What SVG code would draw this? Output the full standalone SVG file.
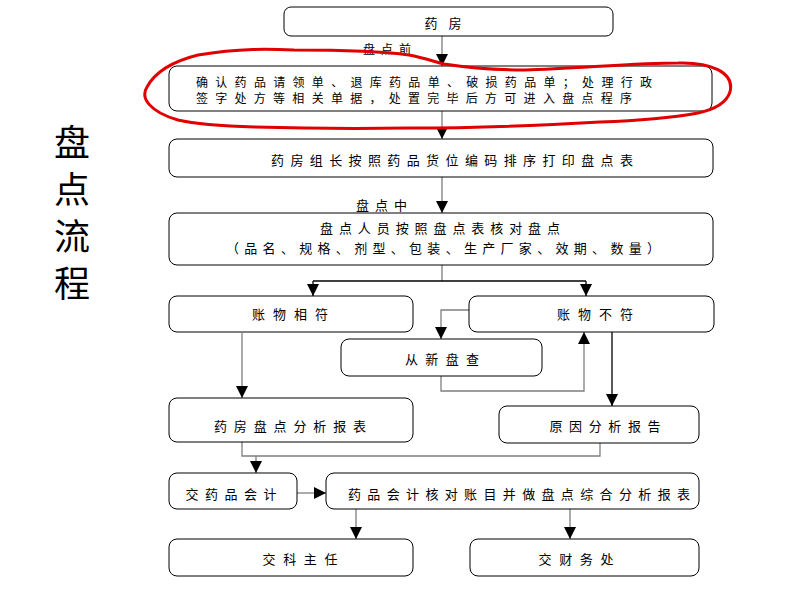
<svg xmlns="http://www.w3.org/2000/svg" width="800" height="600" viewBox="0 0 800 600">
<style>
.box{fill:#fff;stroke:#000;stroke-width:1}
.t{font-family:"Noto Sans CJK SC","Noto Sans",sans-serif;font-size:13px;fill:#000;dominant-baseline:central}
.s{font-size:12px}
.c{text-anchor:middle}
.ln{fill:none;stroke:#7f7f7f;stroke-width:1.3}
.lk{fill:none;stroke:#000;stroke-width:1.3}
.title{font-family:"Noto Sans CJK SC",sans-serif;font-size:36px;fill:#000;text-anchor:middle;dominant-baseline:central}
</style>
<defs>
<marker id="ah" viewBox="0 0 12 12" refX="12" refY="6" markerWidth="12" markerHeight="12" markerUnits="userSpaceOnUse" orient="auto">
<path d="M0,0 L12,6 L0,12 Z" fill="#000"/>
</marker>
</defs>
<rect width="800" height="600" fill="#fff"/>
<g id="title">
<text class="title" x="72" y="140">盘</text>
<text class="title" x="72" y="187">点</text>
<text class="title" x="72" y="234">流</text>
<text class="title" x="72" y="281">程</text>
</g>
<g id="connectors">
<line class="ln" x1="442" y1="36" x2="442" y2="66" marker-end="url(#ah)"/>
<line class="ln" x1="442" y1="111" x2="442" y2="139" marker-end="url(#ah)"/>
<line class="ln" x1="442" y1="177" x2="442" y2="213" marker-end="url(#ah)"/>
<line class="ln" x1="442" y1="265" x2="442" y2="281"/>
<line class="lk" x1="313" y1="281" x2="586" y2="281"/>
<line class="lk" x1="313" y1="281" x2="313" y2="296" marker-end="url(#ah)"/>
<line class="lk" x1="586" y1="281" x2="586" y2="296" marker-end="url(#ah)"/>
<polyline class="ln" points="469,310 441,310 441,339" marker-end="url(#ah)"/>
<polyline class="ln" points="441,376 441,391 584,391 584,332" marker-end="url(#ah)"/>
<line class="lk" x1="612" y1="332" x2="612" y2="406" marker-end="url(#ah)"/>
<line class="ln" x1="242" y1="333" x2="242" y2="398" marker-end="url(#ah)"/>
<polyline class="ln" points="242,442 242,456 600,456 600,443"/>
<line class="ln" x1="256" y1="456" x2="256" y2="473" marker-end="url(#ah)"/>
<line class="ln" x1="297" y1="493" x2="326" y2="493" marker-end="url(#ah)"/>
<line class="ln" x1="356" y1="509" x2="356" y2="539" marker-end="url(#ah)"/>
<line class="ln" x1="570" y1="509" x2="570" y2="539" marker-end="url(#ah)"/>
<text class="t s" x="363" y="48" textLength="48" lengthAdjust="spacing">盘点前</text>
<text class="t" x="356" y="204" textLength="51" lengthAdjust="spacing">盘点中</text>
</g>
<g id="n1">
<rect class="box" x="284" y="7" width="329" height="29" rx="7"/>
<text class="t c" x="443" y="22" textLength="37" lengthAdjust="spacing">药房</text>
</g>
<g id="n2">
<rect class="box" x="169" y="66" width="543" height="45" rx="8"/>
<text class="t s" x="196" y="81" textLength="456" lengthAdjust="spacing">确认药品请领单、退库药品单、破损药品单；处理行政</text>
<text class="t s" x="196" y="97" textLength="436" lengthAdjust="spacing">签字处方等相关单据，处置完毕后方可进入盘点程序</text>
</g>
<g id="n3">
<rect class="box" x="169" y="139" width="544" height="38" rx="8"/>
<text class="t c" x="452" y="159" textLength="362" lengthAdjust="spacing">药房组长按照药品货位编码排序打印盘点表</text>
</g>
<g id="n4">
<rect class="box" x="169" y="213" width="544" height="52" rx="8"/>
<text class="t c" x="440" y="227" textLength="240" lengthAdjust="spacing">盘点人员按照盘点表核对盘点</text>
<text class="t c" x="443" y="247" textLength="434" lengthAdjust="spacing">（品名、规格、剂型、包装、生产厂家、效期、数量）</text>
</g>
<g id="n5">
<rect class="box" x="169" y="296" width="244" height="36" rx="8"/>
<text class="t c" x="290" y="313" textLength="76" lengthAdjust="spacing">账物相符</text>
</g>
<g id="n6">
<rect class="box" x="469" y="296" width="245" height="36" rx="8"/>
<text class="t c" x="595" y="313" textLength="76" lengthAdjust="spacing">账物不符</text>
</g>
<g id="n7">
<rect class="box" x="341" y="339" width="201" height="37" rx="8"/>
<text class="t c" x="442" y="358" textLength="74" lengthAdjust="spacing">从新盘查</text>
</g>
<g id="n8">
<rect class="box" x="169" y="398" width="244" height="44" rx="8"/>
<text class="t c" x="290" y="425" textLength="152" lengthAdjust="spacing">药房盘点分析报表</text>
</g>
<g id="n9">
<rect class="box" x="499" y="406" width="200" height="37" rx="8"/>
<text class="t c" x="605" y="425" textLength="111" lengthAdjust="spacing">原因分析报告</text>
</g>
<g id="n10">
<rect class="box" x="169" y="473" width="128" height="36" rx="8"/>
<text class="t c" x="231" y="493" textLength="91" lengthAdjust="spacing">交药品会计</text>
</g>
<g id="n11">
<rect class="box" x="326" y="473" width="373" height="36" rx="8"/>
<text class="t" x="348" y="493" textLength="342" lengthAdjust="spacing">药品会计核对账目并做盘点综合分析报表</text>
</g>
<g id="n12">
<rect class="box" x="169" y="539" width="244" height="37" rx="8"/>
<text class="t c" x="300" y="558" textLength="75" lengthAdjust="spacing">交科主任</text>
</g>
<g id="n13">
<rect class="box" x="470" y="539" width="229" height="37" rx="8"/>
<text class="t c" x="576" y="558" textLength="75" lengthAdjust="spacing">交财务处</text>
</g>
<g id="highlight">
<path d="M198,55 C240,48 270,49 294,50 C340,50 380,51 409,55 C425,58 435,62 444,64 C470,68 500,70 525,70 C580,68 640,63 678,63 C710,62 735,72 730,92 C726,104 712,110 698,113 C665,119 630,121 600,122 C530,126 470,128 409,128 C340,129 290,128 255,127 C220,126 195,124 178,120 C150,112 140,98 147,87 C154,74 170,62 198,55 Z" fill="none" stroke="#e00000" stroke-width="3"/>
</g>
</svg>
